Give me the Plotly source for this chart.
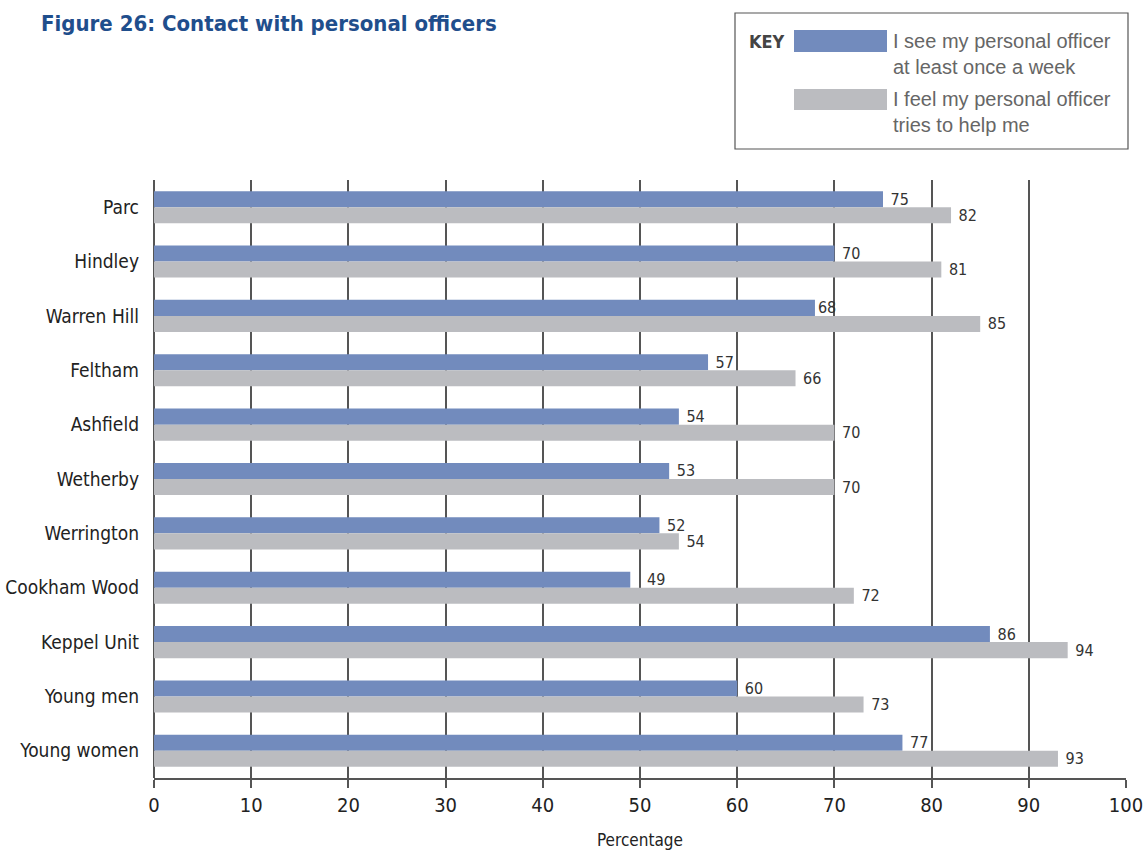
import plotly.graph_objects as go

categories = ["Parc", "Hindley", "Warren Hill", "Feltham", "Ashfield", "Wetherby",
              "Werrington", "Cookham Wood", "Keppel Unit", "Young men", "Young women"]
see_weekly = [75, 70, 68, 57, 54, 53, 52, 49, 86, 60, 77]
tries_help = [82, 81, 85, 66, 70, 70, 54, 72, 94, 73, 93]
x_ticks = [0, 10, 20, 30, 40, 50, 60, 70, 80, 90, 100]
series_names = ["I see my personal officer<br>at least once a week",
                "I feel my personal officer<br>tries to help me"]

BLUE = "#728BBD"
GREY = "#BBBCC0"
NARROW = "DejaVu Sans Condensed"
PLAIN = "Liberation Sans, Arial, sans-serif"
NB = "\u00a0"


def label(v):
    # labels sit clear of the vertical gridlines, as in the original
    frac = v % 10
    if frac >= 8:
        return str(v)
    if frac == 9:
        return NB * 3 + str(v)
    return NB + str(v)


def label_list(vals):
    out = []
    for v in vals:
        if v % 10 == 9:
            out.append(NB * 3 + str(v))
        elif v % 10 == 8:
            out.append(str(v))
        else:
            out.append(NB + str(v))
    return out


fig = go.Figure()
for vals, col, name in [(see_weekly, BLUE, series_names[0]), (tries_help, GREY, series_names[1])]:
    fig.add_trace(go.Bar(
        y=categories, x=vals, orientation="h", name=name,
        marker=dict(color=col, line=dict(width=0)),
        text=label_list(vals), textposition="outside",
        textfont=dict(family=NARROW, size=16, color="#333333"),
        constraintext="none", cliponaxis=False, showlegend=False,
        hoverinfo="x+y",
    ))

W, H = 1146, 850
L, R, T, B = 154, 20, 180, 72
pw, ph = W - L - R, H - T - B

def px(x):
    return (x - L) / pw

def py(y):
    return (H - B - y) / ph

shapes = [
    dict(type="rect", xref="paper", yref="paper", x0=px(735), x1=px(1128), y0=py(149), y1=py(13),
         line=dict(color="#555555", width=1.2), fillcolor="rgba(0,0,0,0)"),
    dict(type="rect", xref="paper", yref="paper", x0=px(794), x1=px(887), y0=py(52), y1=py(30),
         line=dict(width=0), fillcolor=BLUE),
    dict(type="rect", xref="paper", yref="paper", x0=px(794), x1=px(887), y0=py(110), y1=py(89),
         line=dict(width=0), fillcolor=GREY),
]

annotations = [
    dict(text="<b>Figure 26: Contact with personal officers</b>", xref="paper", yref="paper",
         x=px(39), y=py(24), xanchor="left", yanchor="middle", showarrow=False,
         font=dict(family=NARROW, size=22, color="#1F4E8C")),
    dict(text="<b>KEY</b>", xref="paper", yref="paper", x=px(747), y=py(41),
         xanchor="left", yanchor="middle", showarrow=False,
         font=dict(family=NARROW, size=18, color="#444444")),
    dict(text=series_names[0], xref="paper", yref="paper", x=px(891), y=py(54),
         xanchor="left", yanchor="middle", align="left", showarrow=False,
         font=dict(family=PLAIN, size=20, color="#666666")),
    dict(text=series_names[1], xref="paper", yref="paper", x=px(891), y=py(112),
         xanchor="left", yanchor="middle", align="left", showarrow=False,
         font=dict(family=PLAIN, size=20, color="#666666")),
    dict(text="Percentage", xref="paper", yref="paper", x=px(640), y=py(840),
         xanchor="center", yanchor="middle", showarrow=False,
         font=dict(family=NARROW, size=17, color="#222222")),
]

fig.update_layout(
    width=W, height=H,
    margin=dict(l=L, r=R, t=T, b=B, pad=0, autoexpand=False),
    paper_bgcolor="white", plot_bgcolor="white",
    barmode="group", bargap=0.41, bargroupgap=0,
    shapes=shapes, annotations=annotations,
    font=dict(family=NARROW, color="#222222"),
    xaxis=dict(
        range=[0, 100], tickvals=x_ticks, ticktext=[str(t) for t in x_ticks],
        automargin=False,
        showgrid=True, gridcolor="#555555", gridwidth=2,
        zeroline=True, zerolinecolor="#555555", zerolinewidth=2,
        showline=True, linecolor="#555555", linewidth=2,
        ticks="outside", ticklen=8, tickwidth=2, tickcolor="#555555",
        tickfont=dict(family=NARROW, size=20, color="#222222"),
    ),
    yaxis=dict(
        autorange="reversed", showgrid=False, zeroline=False, showline=False,
        automargin=False,
        ticks="", ticklabelstandoff=14,
        tickfont=dict(family=NARROW, size=19, color="#222222"),
    ),
)

fig.write_html("out.html", config={"displayModeBar": False},
               post_script="document.body.style.margin='0';")
